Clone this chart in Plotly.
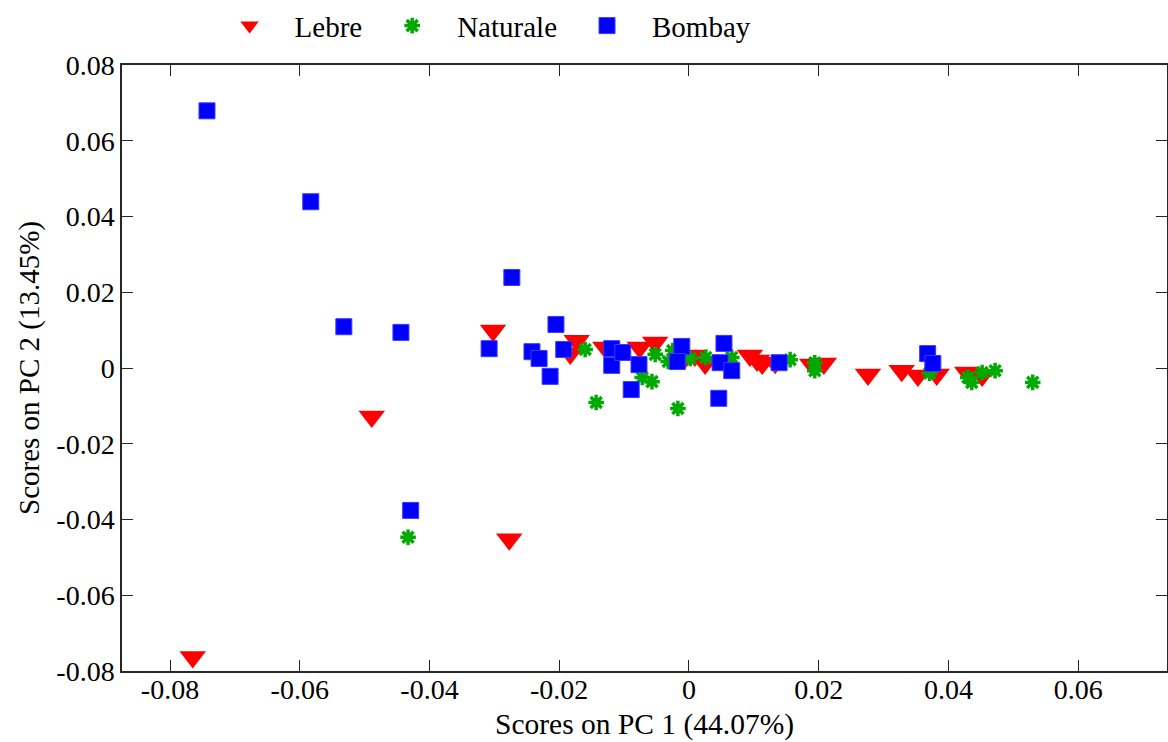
import plotly.graph_objects as go

# ---- data ----
lebre_x = [-0.0765, -0.0489, -0.0277, -0.0302, -0.0173, -0.0183, -0.0129, -0.0076, -0.0052,
           -0.0006, 0.0009, 0.0025, 0.0094, 0.0105, 0.0113, 0.0133, 0.0190, 0.0208,
           0.0276, 0.0328, 0.0353, 0.0382, 0.0429, 0.0452]
lebre_y = [-0.0763, -0.0128, -0.0452, 0.0099, 0.0072, 0.0038, 0.0054, 0.0054, 0.0067,
           0.0028, 0.0033, 0.0012, 0.0033, 0.0020, 0.0012, 0.0014, 0.0009, 0.0012,
           -0.0017, -0.0007, -0.0020, -0.0017, -0.0012, -0.0020]

naturale_x = [-0.0433, -0.0160, -0.0143, -0.0072, -0.0057, -0.0052, -0.0032, -0.0025, -0.0017,
              0.0002, 0.0026, 0.0066, 0.0156, 0.0194, 0.0194, 0.0371, 0.0430, 0.0436,
              0.0452, 0.0472, 0.0530]
naturale_y = [-0.0447, 0.0049, -0.0091, -0.0025, -0.0036, 0.0036, 0.0017, 0.0046, -0.0107,
              0.0025, 0.0028, 0.0028, 0.0022, 0.0014, -0.0007, -0.0014, -0.0025, -0.0038,
              -0.0012, -0.0007, -0.0038]

bombay_x = [-0.0743, -0.0583, -0.0532, -0.0444, -0.0429, -0.0308, -0.0273, -0.0242, -0.0231,
            -0.0214, -0.0205, -0.0193, -0.0119, -0.0119, -0.0102, -0.0077, -0.0089, -0.0011,
            -0.0018, 0.0054, 0.0048, 0.0066, 0.0046, 0.0139, 0.0368, 0.0376]
bombay_y = [0.0679, 0.0439, 0.0109, 0.0094, -0.0376, 0.0051, 0.0239, 0.0043, 0.0025,
            -0.0022, 0.0115, 0.0049, 0.0051, 0.0007, 0.0041, 0.0009, -0.0057, 0.0057,
            0.0017, 0.0065, 0.0014, -0.0007, -0.0080, 0.0014, 0.0038, 0.0012]

x_ticks = [-0.08, -0.06, -0.04, -0.02, 0, 0.02, 0.04, 0.06]
x_ticktext = ["-0.08", "-0.06", "-0.04", "-0.02", "0", "0.02", "0.04", "0.06"]
y_ticks = [-0.08, -0.06, -0.04, -0.02, 0, 0.02, 0.04, 0.06, 0.08]
y_ticktext = ["-0.08", "-0.06", "-0.04", "-0.02", "0", "0.02", "0.04", "0.06", "0.08"]

x_title = "Scores on PC 1 (44.07%)"
y_title = "Scores on PC 2 (13.45%)"

FONT = "Liberation Serif"

fig = go.Figure()
fig.add_trace(go.Scatter(
    x=lebre_x, y=lebre_y, mode="markers", name="Lebre",
    marker=dict(symbol="triangle-down", size=23, color="#ff0000", line=dict(width=0))))
fig.add_trace(go.Scatter(
    x=naturale_x, y=naturale_y, mode="markers", name="Naturale",
    marker=dict(symbol="asterisk", size=13, color="#00aa00",
                line=dict(width=3.5, color="#00aa00"))))
fig.add_trace(go.Scatter(
    x=bombay_x, y=bombay_y, mode="markers", name="Bombay",
    marker=dict(symbol="square", size=16, color="#0000ff",
                line=dict(width=1, color="#3a3aff"))))

axis_common = dict(
    showgrid=False, zeroline=False, showline=True, linecolor="#262626", linewidth=1.5,
    mirror="allticks", ticks="inside", ticklen=11, tickwidth=1.2, tickcolor="#262626",
    tickfont=dict(family=FONT, size=28, color="black"), automargin=False,
)

fig.update_layout(
    width=1168, height=742,
    margin=dict(l=122, r=1, t=64, b=71),
    paper_bgcolor="white", plot_bgcolor="white",
    font=dict(family=FONT, color="black"),
    xaxis=dict(range=[-0.0874, 0.0737], tickvals=x_ticks, ticktext=x_ticktext,
               ticklabelstandoff=-7, **axis_common),
    yaxis=dict(range=[-0.08, 0.08], tickvals=y_ticks, ticktext=y_ticktext,
               title=dict(text=y_title, font=dict(family=FONT, size=29), standoff=8),
               **axis_common),
    legend=dict(orientation="h", x=0.079, y=1.063, xanchor="left", yanchor="middle",
                font=dict(family=FONT, size=29, color="black"),
                itemwidth=80, bgcolor="rgba(0,0,0,0)", borderwidth=0),
    showlegend=True,
)

fig.add_annotation(text=x_title, xref="paper", yref="paper", x=0.5, y=-0.117,
                   xanchor="center", yanchor="bottom", showarrow=False,
                   font=dict(family=FONT, size=29.5, color="black"), borderpad=0)

fig.write_html("out.html")
